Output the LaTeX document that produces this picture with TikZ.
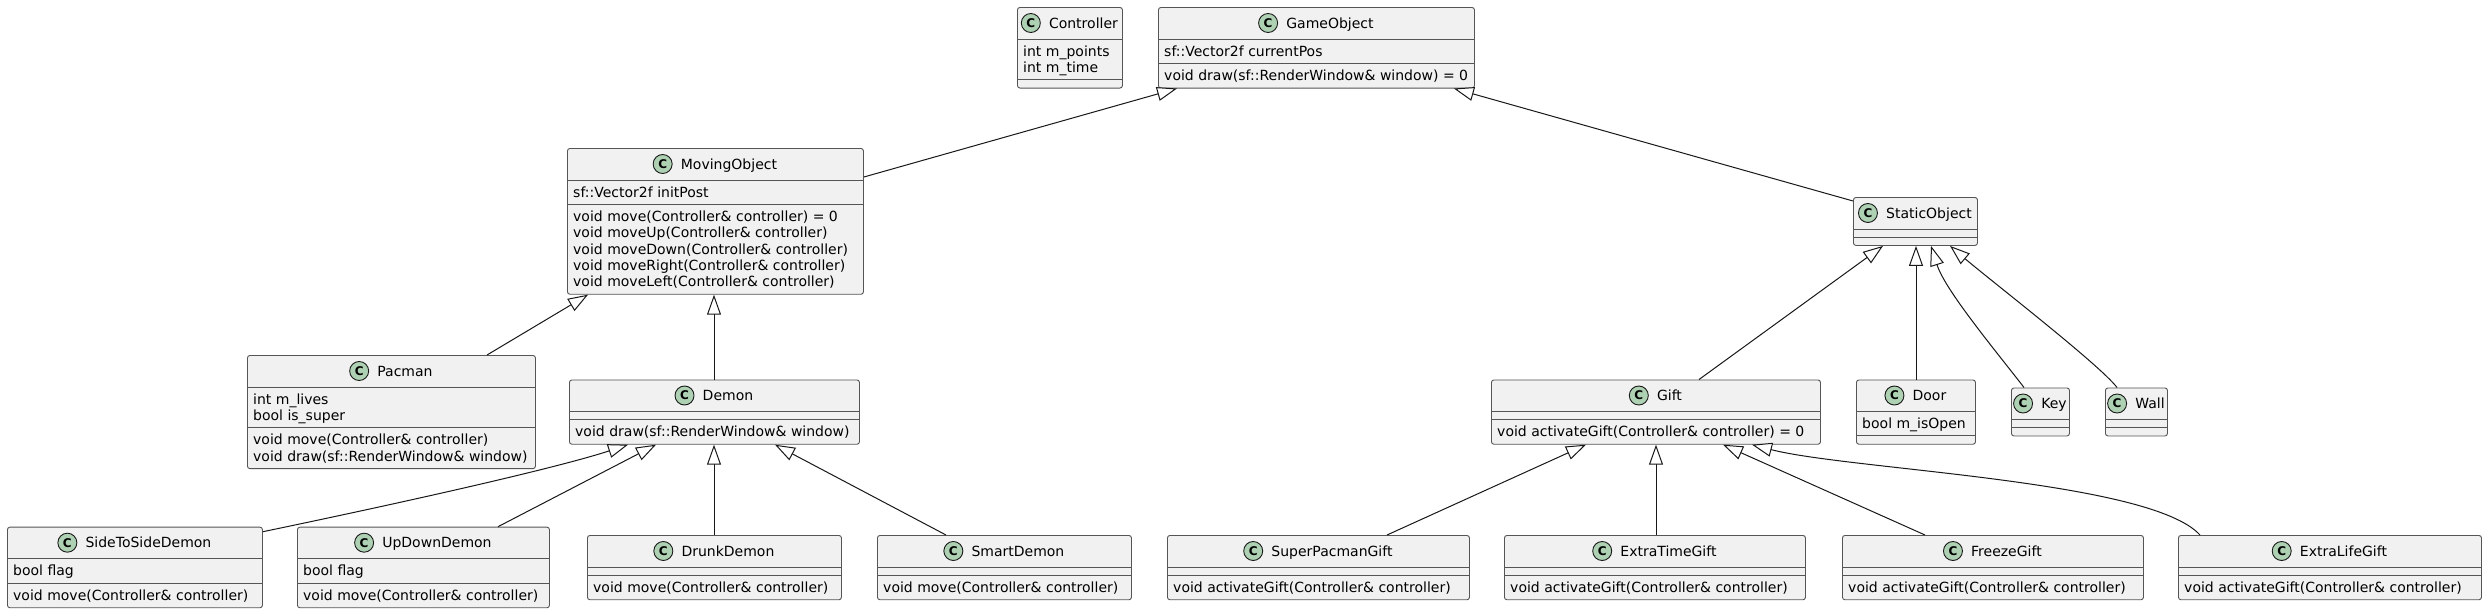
\documentclass[tikz,border=0pt]{standalone}
\usepackage{fontspec}
\setmainfont{DejaVu Sans}
\usetikzlibrary{arrows.meta,calc}
\definecolor{boxfill}{HTML}{F1F1F1}
\definecolor{boxline}{HTML}{555555}
\definecolor{spot}{HTML}{ADD1B2}
\definecolor{edgecol}{HTML}{181818}
\tikzset{
  classbox/.style={draw=boxline, fill=boxfill, line width=0.9pt, rounded corners=2.5pt, inner sep=0pt, rectangle},
  sepline/.style={draw=boxline, line width=0.9pt},
  spotc/.style={circle, draw=edgecol, fill=spot, line width=0.9pt, minimum size=19pt, inner sep=0pt, font=\bfseries\fontsize{12pt}{12pt}\selectfont},
  ctitle/.style={inner sep=0pt, font=\fontsize{14pt}{16.3pt}\selectfont},
  members/.style={inner sep=0pt, anchor=north west, align=left, font=\fontsize{14pt}{16.3pt}\selectfont},
  inherit/.style={draw=edgecol, line width=1pt, -{Triangle[length=20pt,width=14pt,fill=white]}},
}
% #1 name, #2 left, #3 top, #4 width, #5 n attrs, #6 n methods, #7 attrs, #8 methods
\newcommand\umlclass[8]{%
  \pgfmathsetmacro\clsA{ifthenelse(#5==0,8,#5*16.3+8)}%
  \pgfmathsetmacro\clsM{ifthenelse(#6==0,8,#6*16.3+8)}%
  \pgfmathsetmacro\clsT{32+\clsA+\clsM}%
  \pgfmathsetmacro\clsS{-(32+\clsA)}%
  \pgfmathsetmacro\clsU{-(36+\clsA)}%
  \node[classbox, minimum width=#4pt, minimum height=\clsT pt, anchor=north west] (#1) at (#2,#3) {};
  \node[ctitle, anchor=base] (#1-title) at ([yshift=-21pt]#1.north) {\hspace*{27pt}#1};
  \path let \p1=(#1-title.west), \p2=(#1.north) in node[spotc] (#1-spot) at (\x1+9pt,\y2-16pt) {C};
  \draw[sepline] ([yshift=-32pt]#1.north west) -- ([yshift=-32pt]#1.north east);
  \draw[sepline] ([yshift=\clsS pt]#1.north west) -- ([yshift=\clsS pt]#1.north east);
  \ifnum#5>0 \node[members] (#1-attrs) at ([xshift=6pt,yshift=-36pt]#1.north west) {\rule{0pt}{13pt}#7};\fi
  \ifnum#6>0 \node[members] (#1-meths) at ([xshift=6pt,yshift=\clsU pt]#1.north west) {\rule{0pt}{13pt}#8};\fi
}
\begin{document}
\begin{tikzpicture}[x=1pt,y=-1pt]
\fill[white] (0,0) rectangle (2486,613);
\useasboundingbox (0,0) rectangle (2486,613);

\umlclass{Controller}{1017}{7}{105}{2}{0}{int m\_points\\int m\_time}{}
\umlclass{GameObject}{1158}{7}{316}{1}{1}{sf::Vector2f currentPos}{void draw(sf::RenderWindow\& window) = 0}
\umlclass{MovingObject}{567}{148}{296}{1}{5}{sf::Vector2f initPost}{void move(Controller\& controller) = 0\\void moveUp(Controller\& controller)\\void moveDown(Controller\& controller)\\void moveRight(Controller\& controller)\\void moveLeft(Controller\& controller)}
\umlclass{StaticObject}{1853}{197}{124}{0}{0}{}{}
\umlclass{Pacman}{247}{355}{288}{2}{2}{int m\_lives\\bool is\_super}{void move(Controller\& controller)\\void draw(sf::RenderWindow\& window)}
\umlclass{Demon}{569}{379.5}{290}{0}{1}{}{void draw(sf::RenderWindow\& window)}
\umlclass{Gift}{1491}{379.5}{329}{0}{1}{}{void activateGift(Controller\& controller) = 0}
\umlclass{Door}{1856}{379.5}{119}{1}{0}{bool m\_isOpen}{}
\umlclass{Key}{2011}{387.5}{58}{0}{0}{}{}
\umlclass{Wall}{2105}{387.5}{62}{0}{0}{}{}
\umlclass{SideToSideDemon}{7}{526.7}{255}{1}{1}{bool flag}{void move(Controller\& controller)}
\umlclass{UpDownDemon}{297}{526.7}{252}{1}{1}{bool flag}{void move(Controller\& controller)}
\umlclass{DrunkDemon}{587}{535}{254}{0}{1}{}{void move(Controller\& controller)}
\umlclass{SmartDemon}{877}{535}{254}{0}{1}{}{void move(Controller\& controller)}
\umlclass{SuperPacmanGift}{1167}{535}{302}{0}{1}{}{void activateGift(Controller\& controller)}
\umlclass{ExtraTimeGift}{1504}{535}{301}{0}{1}{}{void activateGift(Controller\& controller)}
\umlclass{FreezeGift}{1842}{535}{301}{0}{1}{}{void activateGift(Controller\& controller)}
\umlclass{ExtraLifeGift}{2178}{535}{303}{0}{1}{}{void activateGift(Controller\& controller)}

% inheritance edges
\draw[inherit] ([yshift=-29pt]MovingObject.north east) -- ([xshift=19pt]GameObject.south west);
\draw[inherit] ([yshift=-4pt]StaticObject.north west) -- ([xshift=-21pt]GameObject.south east);
\draw[inherit] ([xshift=240pt]Pacman.north west) -- ([xshift=21pt]MovingObject.south west);
\draw[inherit] ([xshift=145pt]Demon.north west) -- ([xshift=147pt]MovingObject.south west);
\draw[inherit] ([xshift=208pt]Gift.north west) -- ([xshift=30pt]StaticObject.south west);
\draw[inherit] ([xshift=60pt]Door.north west) -- ([xshift=63pt]StaticObject.south west);
\draw[inherit] ([xshift=13pt]Key.north west) .. controls (1995,350) and (1945,290) .. ([xshift=78pt]StaticObject.south west);
\draw[inherit] ([xshift=12pt]Wall.north west) .. controls (2100,365) and (1990,280) .. ([xshift=97pt]StaticObject.south west);
\draw[inherit] ([yshift=-5pt]SideToSideDemon.north east) .. controls (420,499) and (560,467) .. ([xshift=59pt]Demon.south west);
\draw[inherit] ([xshift=201pt]UpDownDemon.north west) -- ([xshift=87pt]Demon.south west);
\draw[inherit] ([xshift=127pt]DrunkDemon.north west) -- ([xshift=145pt]Demon.south west);
\draw[inherit] ([xshift=69pt]SmartDemon.north west) -- ([xshift=206pt]Demon.south west);
\draw[inherit] ([xshift=220pt]SuperPacmanGift.north west) -- ([xshift=95pt]Gift.south west);
\draw[inherit] ([xshift=152pt]ExtraTimeGift.north west) -- ([xshift=165pt]Gift.south west);
\draw[inherit] ([xshift=83pt]FreezeGift.north west) -- ([xshift=232pt]Gift.south west);
\draw[inherit] ([xshift=22pt]ExtraLifeGift.north west) .. controls (2150,480) and (1850,470) .. ([xshift=261pt]Gift.south west);
\end{tikzpicture}
\end{document}
